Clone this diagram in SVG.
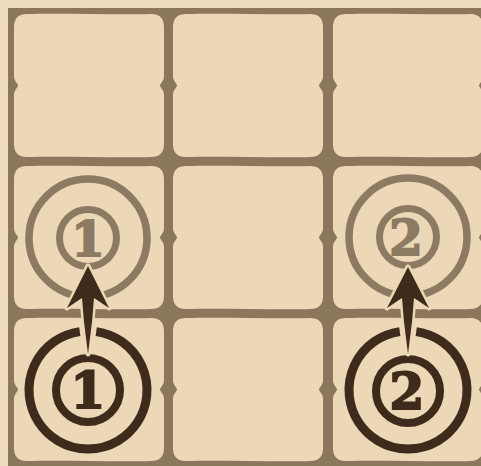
<svg xmlns="http://www.w3.org/2000/svg" width="481" height="466" viewBox="0 0 481 466">
<style>
.bg{fill:#efdcbd}
.grid{fill:#8b775c}
.tile{fill:#ecd8b7}
.ringG{fill:none;stroke:#8c7a62}
.ringD{fill:none;stroke:#3e2b1b}
.numG{fill:#8c7a62;stroke:#8c7a62;stroke-width:2;font-family:"DejaVu Serif","Liberation Serif",serif;font-weight:bold;text-anchor:middle}
.numD{fill:#3e2b1b;stroke:#3e2b1b;stroke-width:2;font-family:"DejaVu Serif","Liberation Serif",serif;font-weight:bold;text-anchor:middle}
.arrow{fill:#3e2b1b;stroke:#ecd8b7;stroke-width:5;stroke-linejoin:round;paint-order:stroke}
</style>
<defs>
<path id="tileShape" d="M13,0 C50,-1 100,1 137,0 Q150,0 150,13 L150,62.5 C150,67 146,69.5 146,71.5 C146,73.5 150,76 150,80.5 L150,130 Q150,143 137,143 C100,144 50,142 13,143 Q0,143 0,130 L0,80.5 C0,76 4,73.5 4,71.5 C4,69.5 0,67 0,62.5 L0,13 Q0,0 13,0 Z"/>
</defs>
<rect class="bg" x="0" y="0" width="481" height="466"/>
<rect class="grid" x="8" y="8" width="480" height="470"/>
<g id="tile-r1c1"><use href="#tileShape" class="tile" x="14" y="14"/></g>
<g id="tile-r1c2"><use href="#tileShape" class="tile" x="173" y="14"/></g>
<g id="tile-r1c3"><use href="#tileShape" class="tile" x="333" y="14"/></g>
<g id="tile-r2c1"><use href="#tileShape" class="tile" x="14" y="166"/></g>
<g id="tile-r2c2"><use href="#tileShape" class="tile" x="173" y="166"/></g>
<g id="tile-r2c3"><use href="#tileShape" class="tile" x="333" y="166"/></g>
<g id="tile-r3c1"><use href="#tileShape" class="tile" x="14" y="318"/></g>
<g id="tile-r3c2"><use href="#tileShape" class="tile" x="173" y="318"/></g>
<g id="tile-r3c3"><use href="#tileShape" class="tile" x="333" y="318"/></g>

<g id="target-1">
<circle class="ringG" cx="88" cy="238" r="59" stroke-width="7.5"/>
<circle class="ringG" cx="88" cy="238" r="28.5" stroke-width="7"/>
<text class="numG" x="88" y="256" font-size="48">1</text>
</g>
<g id="start-1">
<path class="ringD" d="M96.2,331.6 A59,59 0 1 1 79.8,331.6" stroke-width="9"/>
<circle class="ringD" cx="88" cy="390" r="32" stroke-width="8"/>
<text class="numD" x="88" y="408" font-size="50">1</text>
</g>
<g id="target-2">
<circle class="ringG" cx="408" cy="237" r="59" stroke-width="7.5"/>
<circle class="ringG" cx="408" cy="237" r="28.5" stroke-width="7"/>
<text class="numG" x="406" y="255" font-size="48">2</text>
</g>
<g id="start-2">
<path class="ringD" d="M416.2,331.6 A59,59 0 1 1 399.8,331.6" stroke-width="9"/>
<circle class="ringD" cx="408" cy="391" r="32" stroke-width="8"/>
<text class="numD" x="407" y="409" font-size="50">2</text>
</g>

<g id="connectors">
<path class="arrow" d="M88,266 L109,308 L94,298 L92,322 L88,354 L84,322 L82,298 L67,308 Z"/>
<path class="arrow" d="M408,267 L429,308 L414,298 L412,322 L408,354 L404,322 L402,298 L387,308 Z"/>
</g>
</svg>
